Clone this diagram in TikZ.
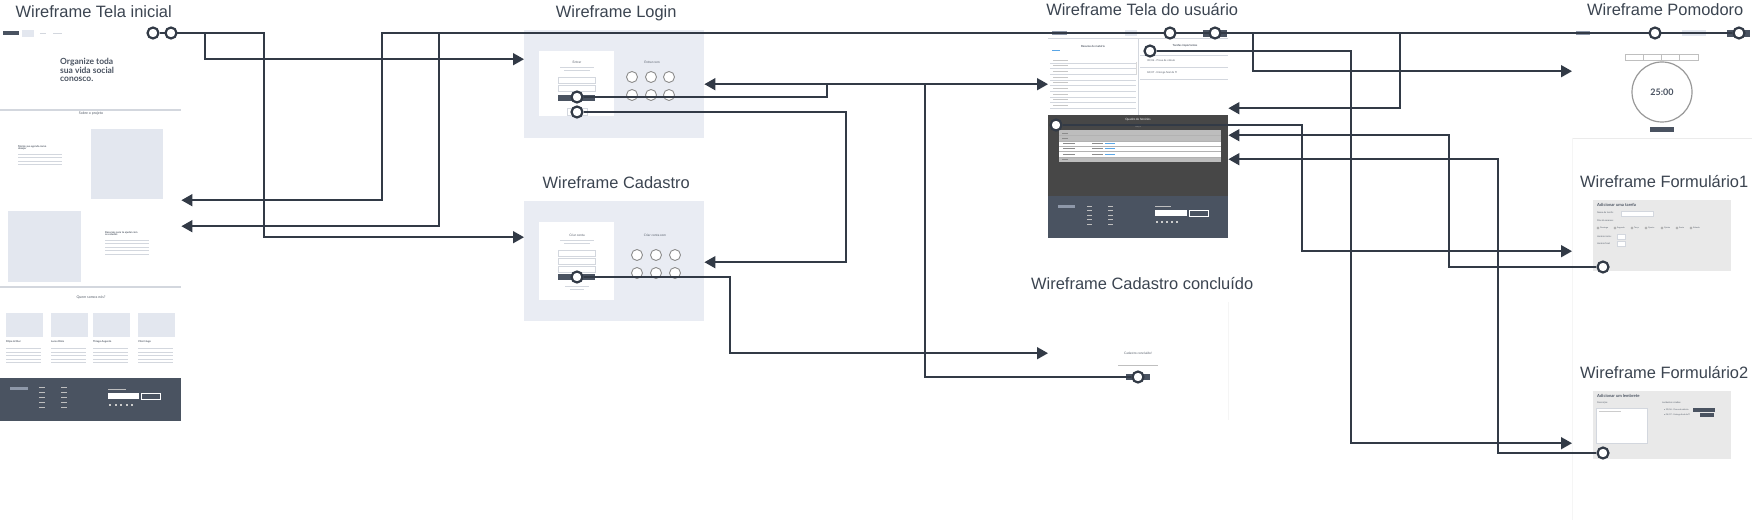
\documentclass[tikz,border=0pt]{standalone}
\usepackage{fontspec}
\setmainfont{Liberation Sans}
\newfontfamily\wf{Lato}
\usetikzlibrary{positioning, arrows.meta}

\definecolor{ink}{HTML}{323A46}
\definecolor{titlegray}{HTML}{3B4450}
\definecolor{palebg}{HTML}{E9ECF3}
\definecolor{placeholder}{HTML}{E3E7EF}
\definecolor{slate}{HTML}{4A5361}
\definecolor{schedule}{HTML}{474747}
\definecolor{formgray}{HTML}{E9E9E9}
\definecolor{wftext}{HTML}{555D69}
\definecolor{lorem}{HTML}{D3D7DE}
\definecolor{linkblue}{HTML}{5AA6E6}
\definecolor{rowgray}{HTML}{BDBDBD}
\definecolor{logoblue}{HTML}{8E98A9}

\pgfdeclarelayer{ports}
\pgfsetlayers{main,ports}

\tikzset{
  frame/.style={draw=none, inner sep=0, anchor=north west},
  title/.style={font=\fontsize{16.5}{18}\selectfont, text=titlegray, inner sep=0,
    text height=12bp, text depth=4bp},
  port/.style={circle, draw=ink, fill=white, line width=2.2bp, minimum size=11bp, inner sep=0},
  flow/.style={draw=ink, line width=1.6bp, -{Triangle[length=11bp,width=12bp]}},
  wtxt/.style={font=\wf\fontsize{#1}{#1}\selectfont, text=wftext, inner sep=0},
  wtxt/.default=3,
  wbold/.style={font=\wf\bfseries\fontsize{#1}{#1}\selectfont, text=wftext, inner sep=0, align=left},
  wbold/.default=3,
  field/.style={fill=white, draw=lorem, line width=0.4bp},
  social/.style={circle, draw=black!45, fill=white, line width=0.9bp, minimum size=11bp, inner sep=0},
}

\begin{document}
\begin{tikzpicture}[x=1bp, y=-1bp]
  \useasboundingbox (0,0) rectangle (1752,520);

  % ---------- frames ----------
  \node[frame, minimum width=181bp, minimum height=391bp] (inicial) at (0,30) {};
  \node[frame, fill=palebg, minimum width=180bp, minimum height=108bp] (login) at (524,30) {};
  \node[frame, fill=palebg, minimum width=180bp, minimum height=120bp] (cadastro) at (524,201) {};
  \node[frame, fill=white, minimum width=180bp, minimum height=210bp] (usuario) at (1048,28) {};
  \node[frame, minimum width=180bp, minimum height=118bp] (concluido) at (1048,302) {};
  \node[frame, fill=white, minimum width=180bp, minimum height=110bp] (pomodoro) at (1572,28) {};
  \node[frame, minimum width=180bp, minimum height=71bp] (form1) at (1572,200) {};
  \node[frame, minimum width=180bp, minimum height=68bp] (form2) at (1572,391) {};

  \node[title, above=8bp of inicial.north, xshift=3bp] (tInicial) {Wireframe Tela inicial};
  \node[title, above=8bp of login.north, xshift=2bp] (tLogin) {Wireframe Login};
  \node[title, above=8bp of cadastro.north, xshift=2bp] (tCadastro) {Wireframe Cadastro};
  \node[title, above=8bp of usuario.north, xshift=4bp] (tUsuario) {Wireframe Tela do usuário};
  \node[title, above=8bp of concluido.north, xshift=4bp] (tConcluido) {Wireframe Cadastro concluído};
  \node[title, above=8bp of pomodoro.north, xshift=3bp] (tPomodoro) {Wireframe Pomodoro};
  \node[title, above=8bp of form1.north, xshift=2bp] (tForm1) {Wireframe Formulário1};
  \node[title, above=8bp of form2.north, xshift=2bp] (tForm2) {Wireframe Formulário2};

  % ---------- tela inicial ----------
  \fill[slate] (3,31.5) rectangle (19,35);
  \fill[placeholder] (22,30) rectangle (34,37);
  \fill[lorem] (40,33) rectangle (46,34);
  \fill[lorem] (53,33) rectangle (62,34);
  \node[wbold=8.5, text=slate, anchor=north west] (hero) at (60,58.5) {Organize toda\\sua vida social\\conosco.};
  \draw[lorem, line width=1.2bp] (0,110) -- (181,110);
  \node[wtxt=3.6] (sobre) at (91,114) {Sobre o projeto};
  \fill[placeholder] (91,129) rectangle (163,199);
  \node[wbold=2.6, anchor=north west] (monte) at (18,145) {Monte sua agenda como\\desejar};
  \foreach \y in {154,157.5,161,164.5} \fill[lorem] (18,\y) rectangle ++(44,0.9);
  \fill[placeholder] (8,211) rectangle (81,282);
  \node[wbold=2.6, anchor=north west] (recursos) at (105,231) {Recursos para te ajudar com\\os estudos};
  \foreach \y in {240,243.5,247,250.5,254} \fill[lorem] (105,\y) rectangle ++(44,0.9);
  \draw[lorem, line width=1.2bp] (0,287) -- (181,287);
  \node[wtxt=3.6] (quem) at (91,297) {Quem somos nós?};
  \foreach \x/\nm [count=\i] in {6/Filipe Arthur, 51/Lucas Dinis, 93/Thiago Augusto, 138/Vitor Hugo}{
    \fill[placeholder] (\x,313) rectangle ++(37,24);
    \node[wbold=2.6, anchor=west] (quem\i) at (\x,342) {\nm};
    \foreach \y in {348,351.5,355,358.5,362} \fill[lorem] (\x,\y) rectangle ++(35,0.8);
  }
  \fill[slate] (0,378) rectangle (181,421);
  \fill[logoblue] (10,387) rectangle (28,390);
  \foreach \y in {387,392,397,402,407} {
    \fill[black!25] (39,\y) rectangle ++(6,0.8);
    \fill[black!25] (61,\y) rectangle ++(6,0.8);
  }
  \fill[black!25] (108,389) rectangle ++(18,0.8);
  \fill[white] (108,393) rectangle (139,399);
  \draw[white, line width=0.5bp] (141,393) rectangle (160,399);
  \foreach \x in {109,114.5,120,125.5,131} \fill[black!20] (\x,404) rectangle ++(2,2);

  % ---------- login ----------
  \fill[white] (539,51) rectangle (614,116);
  \node[wtxt=3.2] (entrar) at (577,62) {Entrar};
  \fill[lorem] (560,67.5) rectangle (594,68.3);
  \fill[lorem] (564,70.5) rectangle (590,71.3);
  \draw[field] (558,77) rectangle (595,83);
  \draw[field] (558,85) rectangle (595,91);
  \fill[slate] (558,95) rectangle (595,101);
  \draw[field] (567,108) rectangle (587,115);
  \node[wtxt=3.2] (entrarCom) at (652,62) {Entrar com};
  \foreach \x in {632,651,669} \foreach \y in {77,95} \node[social] (ls\x\y) at (\x,\y) {};

  % ---------- cadastro ----------
  \fill[white] (539,222) rectangle (614,300);
  \node[wtxt=3.2] (criar) at (577,235) {Criar conta};
  \fill[lorem] (560,240.5) rectangle (594,241.3);
  \fill[lorem] (564,243.5) rectangle (590,244.3);
  \foreach \y in {250,258,266} \draw[field] (558,\y) rectangle ++(37,6);
  \fill[slate] (558,274) rectangle (595,280);
  \fill[lorem] (565,286.5) rectangle (589,287.3);
  \fill[lorem] (570,289.5) rectangle (584,290.3);
  \node[wtxt=3.2] (criarCom) at (655,235) {Criar conta com};
  \foreach \x in {637,656,675} \foreach \y in {255,273} \node[social] (cs\x\y) at (\x,\y) {};

  % ---------- tela do usuario ----------
  \fill[logoblue] (1052,31) rectangle (1067,35);
  \fill[placeholder] (1125,30) rectangle (1137,36);
  \fill[slate] (1203,30) rectangle (1227,37);
  \draw[lorem, line width=0.5bp] (1048,38.5) -- (1228,38.5);
  \draw[lorem, line width=0.6bp] (1138,38.5) -- (1138,115);
  \node[wbold=2.8] (resumo) at (1093,46) {Resumo de matéria};
  \fill[linkblue] (1052,50.5) rectangle (1060,51.3);
  \foreach \y in {60,65.7,...,111} {
    \draw[lorem, line width=0.5bp] (1050,\y+2.8) -- (1136,\y+2.8);
    \fill[black!22] (1053,\y-0.4) rectangle ++(15,0.8);
  }
  \fill[black!15] (1135.5,62) rectangle (1137,75);
  \node[wbold=2.8] (tarefas) at (1185,46) {Tarefas importantes};
  \foreach \y in {55,67,79} \draw[lorem, line width=0.5bp] (1140,\y) -- (1228,\y);
  \node[wtxt=2.6, anchor=west] (tar1) at (1147,61) {30/06 - Prova de cálculo};
  \node[wtxt=2.6, anchor=west] (tar2) at (1147,73) {04/07 - Entrega final de TI};
  \fill[schedule] (1048,115) rectangle (1228,196);
  \node[wtxt=3, text=white] (quadro) at (1138,120) {Quadro de horários};
  \node[wtxt=2.4, text=black!35] (terca) at (1138,126.5) {Terça};
  \fill[rowgray] (1059,130) rectangle (1221,141);
  \fill[white] (1059,141) rectangle (1221,157);
  \fill[rowgray] (1059,157) rectangle (1221,162);
  \foreach \y in {135.5,141,146.3,151.6,157} \draw[black!30, line width=0.4bp] (1059,\y) -- (1221,\y);
  \foreach \y in {133,138.5,159.5} \fill[black!45] (1062,\y-0.4) rectangle ++(6,0.8);
  \foreach \y in {143.6,148.9,154.3} {
    \fill[black!45] (1063,\y-0.4) rectangle ++(12,0.8);
    \fill[black!45] (1092,\y-0.4) rectangle ++(11,0.8);
    \fill[linkblue] (1105,\y-0.4) rectangle ++(10,0.8);
  }
  \fill[slate] (1048,196) rectangle (1228,238);
  \fill[logoblue] (1058,205) rectangle (1075,208);
  \foreach \y in {206,210.5,215,219.5,224} {
    \fill[black!25] (1087,\y) rectangle ++(5,0.8);
    \fill[black!25] (1108,\y) rectangle ++(5,0.8);
  }
  \fill[black!25] (1155,206.5) rectangle ++(16,0.8);
  \fill[white] (1155,210) rectangle (1187,216);
  \draw[white, line width=0.5bp] (1189,210) rectangle (1208,216);
  \foreach \x in {1156,1161,1166,1171,1176} \fill[black!20] (\x,221) rectangle ++(2,2);

  % ---------- cadastro concluido ----------
  \draw[black!4] (concluido.north east) -- (concluido.south east);
  \node[wtxt=3.2] (concluidoTxt) at (1138,353) {Cadastro concluído!};
  \fill[black!25] (1118,364.6) rectangle (1158,365.4);
  \fill[slate] (1126,374) rectangle (1150,380);

  % ---------- pomodoro ----------
  \draw[black!8] (1572,138) -- (1752,138);
  \draw[black!4] (1572,138) -- (1572,520);
  \fill[logoblue] (1576,31) rectangle (1590,35);
  \fill[placeholder] (1682,30) rectangle (1706,36);
  \fill[slate] (1727,30) rectangle (1750,37);
  \foreach \x in {1625,1643.2,1661.4,1679.6} \draw[field, draw=black!25] (\x,54) rectangle ++(18.2,6);
  \draw[black!40, line width=1.2bp] (1662,92) circle[radius=30bp];
  \node[wbold=9, text=slate] (timer) at (1662,92) {25:00};
  \fill[slate] (1650,127) rectangle (1674,132);

  % ---------- formularios ----------
  \fill[formgray] (1593,200) rectangle (1731,271);
  \node[wbold=4.2, text=slate, anchor=west] (addTarefa) at (1597,205) {Adicionar uma tarefa};
  \node[wtxt=2.3, anchor=west] (nomeTarefa) at (1597,213) {Nome da tarefa:};
  \draw[field] (1621,211) rectangle (1653,216);
  \node[wtxt=2.3, anchor=west] (dias) at (1597,221) {Dias da semana:};
  \foreach \d/\x [count=\i] in {Domingo/1597, Segunda/1614, Terça/1631, Quarta/1645, Quinta/1661, Sexta/1676, Sábado/1690}{
    \draw[black!45, fill=white, line width=0.3bp] (\x+1,228) circle[radius=1.1bp];
    \node[wtxt=2, anchor=west] (dia\i) at (\x+3,228) {\d};
  }
  \node[wtxt=2.3, anchor=west] (hIni) at (1597,237) {Horário início:};
  \draw[field] (1617,234.5) rectangle (1625,239.5);
  \node[wtxt=2.3, anchor=west] (hFim) at (1597,244) {Horário final:};
  \draw[field] (1617,241.5) rectangle (1625,246.5);

  \fill[formgray] (1593,391) rectangle (1731,459);
  \node[wbold=4.2, text=slate, anchor=west] (addLembrete) at (1597,396) {Adicionar um lembrete};
  \node[wtxt=2.3, anchor=west] (descr) at (1597,403) {Descrição:};
  \draw[field] (1596,408) rectangle (1647,443);
  \fill[black!20] (1599,411) rectangle ++(22,0.7);
  \node[wtxt=2.3, anchor=west] (criados) at (1662,403) {Lembretes criados:};
  \node[wtxt=2.1, anchor=west] (lem1) at (1664,409.5) {• 30/06 - Prova de cálculo};
  \node[wtxt=2.1, anchor=west] (lem2) at (1664,414.5) {• 04/07 - Entrega final de TI};
  \fill[slate] (1693,408) rectangle (1715,411.5);
  \fill[slate] (1700,413) rectangle (1714,416.5);

  % ---------- ports ----------
  \begin{pgfonlayer}{ports}
    \node[port] (ini1) at (153,33) {};
    \node[port] (ini2) at (171,33) {};
    \node[port] (log1) at (577,97) {};
    \node[port] (log2) at (577,112) {};
    \node[port] (cad1) at (577,277) {};
    \node[port] (usu1) at (1170,33) {};
    \node[port] (usu2) at (1215,33) {};
    \node[port] (usu3) at (1150,51) {};
    \node[port] (usu4) at (1056,125) {};
    \node[port] (con1) at (1138,377) {};
    \node[port] (pom1) at (1655,33) {};
    \node[port] (pom2) at (1739,33) {};
    \node[port] (frm1) at (1603,267) {};
    \node[port] (frm2) at (1603,453) {};
  \end{pgfonlayer}

  % ---------- navigation ----------
  \draw[flow] (ini2) -- ++(34,0) |- ([yshift=25bp]login.west);
  \draw[flow] (ini1) -- ++(111,0) |- ([yshift=24bp]cadastro.west);
  \draw[flow] (usu1) -- ++(-788,0) |- ([yshift=25.5bp]inicial.east);
  \draw[flow] (pom1) -- ++(-1216,0) |- ([yshift=-0.5bp]inicial.east);
  \draw[flow] (log1) -- ++(250,0) |- ([yshift=49bp]usuario.west);
  \draw[flow] (log2) -- ++(269,0) |- ([yshift=-1bp]cadastro.east);
  \draw[flow] (cad1) -- ++(153,0) |- ([yshift=8bp]concluido.west);
  \draw[flow] (con1) -- ++(-213,0) |- (login.east);
  \draw[flow] (usu2) -- ++(38,0) |- ([yshift=12bp]pomodoro.west);
  \draw[flow] (pom2) -- ++(-339,0) |- ([yshift=25bp]usuario.east);
  \draw[flow] (usu3) -- ++(201,0) |- ([yshift=-18bp]form2.west);
  \draw[flow] (usu4) -- ++(246,0) |- ([yshift=-15.5bp]form1.west);
  \draw[flow] (frm1) -- ++(-154,0) |- ([yshift=-2bp]usuario.east);
  \draw[flow] (frm2) -- ++(-105,0) |- ([yshift=-26bp]usuario.east);
\end{tikzpicture}
\end{document}
